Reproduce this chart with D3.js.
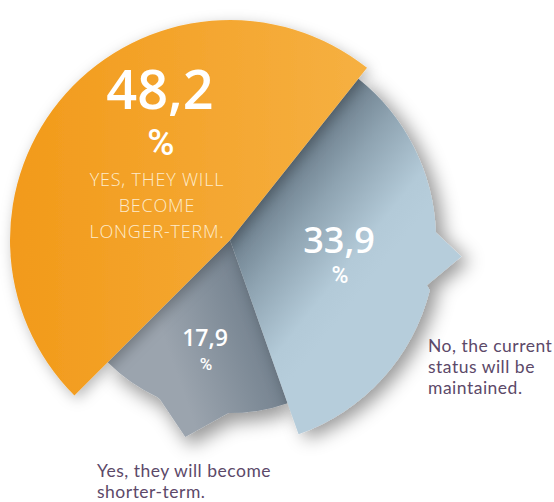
<!DOCTYPE html>
<html>
<head>
<meta charset="utf-8">
<script src="https://cdn.jsdelivr.net/npm/d3@7"></script>
<style>
  html, body { margin: 0; padding: 0; background: #fff; }
  svg { display: block; }
</style>
</head>
<body>
<svg id="chart" width="554" height="502"></svg>
<script>
// ---- data ----
var categories = ["Yes, they will become longer-term.", "No, the current status will be maintained.", "Yes, they will become shorter-term."];
var values = [48.2, 33.9, 17.9];
var valueLabels = ["48,2", "33,9", "17,9"];
var insideLines = [["YES, THEY WILL", "BECOME", "LONGER-TERM."], [], []];
var outsideLines = [[], ["No, the current", "status will be", "maintained."], ["Yes, they will become", "shorter-term."]];

// ---- layout / style ----
var W = 554, H = 502;
var cx = 230, cy = 240;
var deg = Math.PI / 180;
var startAt = 225 * deg;

var sliceStyle = [
    { r: 220, fill: "url(#gOrange)", filter: "url(#shOrange)", spike: null,
      lab: { f: 0.553, r: 116 } },
    { r: 206, fill: "url(#gBlue)", filter: "url(#shBlue)",
      spike: { a: 0.405, t: 0.455, b: 0.528, rt: 232, rb: 202 },
      lab: { f: 0.485, r: 110 } },
    { r: 173, fill: "url(#gGray)", filter: "url(#shGray)",
      spike: { a: 0.31, t: 0.50, b: 0.67, rt: 202, rb: 174 },
      lab: { f: 0.503, r: 111 } }
];

var svg = d3.select("#chart");
var defs = svg.append("defs");

function linGrad(id, x1, y1, x2, y2, stops) {
    var g = defs.append("linearGradient").attr("id", id)
        .attr("gradientUnits", "userSpaceOnUse")
        .attr("x1", x1).attr("y1", y1).attr("x2", x2).attr("y2", y2);
    stops.forEach(function (s) {
        g.append("stop").attr("offset", s[0]).attr("stop-color", s[1]);
    });
}

function shadow(id, dx, dy, sd, op) {
    var f = defs.append("filter").attr("id", id)
        .attr("x", "-30%").attr("y", "-30%").attr("width", "160%").attr("height", "160%");
    f.append("feDropShadow").attr("dx", dx).attr("dy", dy).attr("stdDeviation", sd)
        .attr("flood-color", "#000").attr("flood-opacity", op);
}

var pie = d3.pie().sort(null).value(function (d) { return d; })
    .startAngle(startAt).endAngle(startAt + 2 * Math.PI);
var arcs = pie(values);

// point on circle, d3 angle convention (0 = 12 o'clock, clockwise)
function pt(a, r) {
    return [cx + r * Math.sin(a), cy - r * Math.cos(a)];
}

// gradients follow the slice edges
var blueA = arcs[1].startAngle, grayB = arcs[2].startAngle;
var nB = [Math.sin(blueA + Math.PI / 2), -Math.cos(blueA + Math.PI / 2)];
linGrad("gBlue", cx, cy, cx + 135 * nB[0], cy + 135 * nB[1],
    [[0, "#6b7d8b"], [0.35, "#8ea3b1"], [0.8, "#b3cad8"], [1, "#b6cddb"]]);
var nG = [Math.sin(grayB + Math.PI / 2), -Math.cos(grayB + Math.PI / 2)];
linGrad("gGray", cx, cy, cx + 95 * nG[0], cy + 95 * nG[1],
    [[0, "#74828f"], [1, "#9ba4ae"]]);
linGrad("gOrange", 10, 0, 380, 0, [[0, "#f29a1a"], [1, "#f6b143"]]);

shadow("shBlue", 8, 5, 9, 0.4);
shadow("shGray", 5, 9, 9, 0.4);
shadow("shOrange", 3, 4, 7, 0.28);

function slicePath(d, st) {
    var p = d3.path();
    var a0 = d.startAngle, a1 = d.endAngle, span = a1 - a0;
    var o = -Math.PI / 2;
    p.moveTo(cx, cy);
    var s = pt(a0, st.r);
    p.lineTo(s[0], s[1]);
    if (st.spike) {
        var sa = a0 + st.spike.a * span, st_ = a0 + st.spike.t * span, sb = a0 + st.spike.b * span;
        p.arc(cx, cy, st.r, a0 + o, sa + o, false);
        var tip = pt(st_, st.spike.rt), back = pt(sb, st.spike.rb);
        p.lineTo(tip[0], tip[1]);
        p.lineTo(back[0], back[1]);
        var rest = pt(sb + 0.02, st.r);
        p.lineTo(rest[0], rest[1]);
        p.arc(cx, cy, st.r, sb + 0.02 + o, a1 + o, false);
    } else {
        p.arc(cx, cy, st.r, a0 + o, a1 + o, false);
    }
    p.closePath();
    return p.toString();
}

// draw order: gray, blue, orange on top
[2, 1, 0].forEach(function (i) {
    svg.append("path")
        .attr("d", slicePath(arcs[i], sliceStyle[i]))
        .attr("fill", sliceStyle[i].fill)
        .attr("filter", sliceStyle[i].filter);
});

// ---- labels inside slices ----
var valFont = "'Open Sans', sans-serif";
var pctFont = "Roboto, sans-serif";
var labSpec = [
    { vs: 54, vdy: -41, ps: 37, pdy: 5, dx: 3 },
    { vs: 36, vdy: -2, ps: 23, pdy: 28, dx: 0 },
    { vs: 23, vdy: -2, ps: 17, pdy: 22, dx: 0 }
];

arcs.forEach(function (d, i) {
    var st = sliceStyle[i], ls = labSpec[i];
    var a = d.startAngle + st.lab.f * (d.endAngle - d.startAngle);
    var c = pt(a, st.lab.r);
    var g = svg.append("g").attr("transform", "translate(" + c[0] + "," + c[1] + ")");
    g.append("text")
        .attr("x", ls.dx).attr("y", ls.vdy)
        .attr("text-anchor", "middle")
        .attr("font-family", valFont).attr("font-weight", 600)
        .attr("font-size", ls.vs).attr("fill", "#fff")
        .text(valueLabels[i]);
    g.append("text")
        .attr("x", ls.dx + 1).attr("y", ls.pdy)
        .attr("text-anchor", "middle")
        .attr("font-family", pctFont).attr("font-weight", 500)
        .attr("font-size", ls.ps).attr("fill", "#fff")
        .text("%");
    insideLines[i].forEach(function (line, k) {
        g.append("text")
            .attr("x", 0).attr("y", 36 + k * 26)
            .attr("text-anchor", "middle")
            .attr("font-family", "'Open Sans', sans-serif").attr("font-weight", 300)
            .attr("font-size", 18).attr("letter-spacing", 0.8)
            .attr("fill", "#fdebcb")
            .text(line);
    });
});

// ---- outside labels ----
var outPos = [null, { x: 428, y: 352 }, { x: 97, y: 477 }];
outsideLines.forEach(function (lines, i) {
    if (!lines.length) return;
    lines.forEach(function (line, k) {
        svg.append("text")
            .attr("x", outPos[i].x).attr("y", outPos[i].y + k * 21)
            .attr("font-family", "Lato, sans-serif")
            .attr("font-size", 17.5).attr("letter-spacing", 0.5)
            .attr("fill", "#5c4969")
            .text(line);
    });
});
</script>
</body>
</html>
